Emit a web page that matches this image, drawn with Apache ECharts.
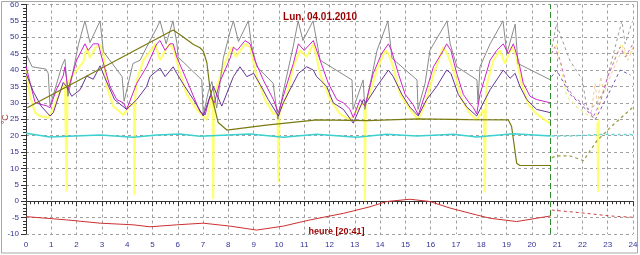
<!DOCTYPE html>
<html><head><meta charset="utf-8">
<script src="https://cdn.jsdelivr.net/npm/echarts@6/dist/echarts.min.js"></script>
<style>html,body{margin:0;padding:0;background:#fff}#c{width:640px;height:255px}</style>
</head><body><div id="c"></div>
<script>
// Data: [hour, °C]
var grayMain = [[0,45],[0.24,41],[0.79,40.3],[0.88,39],[0.95,29],[1.42,41.3],[1.54,43.3],[1.66,32],[1.82,38],[2.07,47.7],[2.33,55],[2.53,48.4],[2.93,55],[3.06,45.6],[3.80,38],[3.88,30.5],[4.23,42],[4.51,43],[4.77,47],[5.18,53],[5.30,55],[5.54,48],[5.81,55],[5.97,48],[6.01,44],[6.95,37],[7.01,26.3],[7.21,33.4],[7.35,36.5],[7.54,28.4],[7.80,43.6],[8.07,51.7],[8.20,55],[8.40,48.7],[8.79,55],[8.92,47.4],[9.13,41],[9.77,36],[9.96,25],[10.16,33],[10.56,47],[10.76,55],[10.95,49],[11.35,55],[11.63,43],[12.89,37],[12.93,28],[13.33,37],[13.40,28],[13.88,46],[14.31,55],[14.47,43.6],[15.46,37],[15.50,28],[15.78,36],[15.97,46],[16.65,55],[16.77,48],[17.04,41],[17.83,37],[17.87,30],[17.95,41],[18.35,48],[18.86,55],[19.01,45],[19.34,54],[19.45,42],[20.74,37]];
var grayPrev = [[20.8,47],[20.97,54],[21.5,43],[22.0,37],[22.1,32],[22.2,28],[22.45,29],[22.83,33],[23.56,55],[23.69,48],[23.96,54.5]];
var magentaMain = [[0,41.3],[0.16,36.2],[0.36,30.1],[0.55,29.6],[0.82,29.1],[0.95,28.5],[1.21,34.2],[1.47,38.2],[1.54,41],[1.66,34],[2.0,43],[2.33,48],[2.46,46],[2.66,48],[2.86,48],[2.99,44],[3.32,35],[3.59,31],[3.85,30],[3.98,28],[4.38,36],[4.77,41],[5.17,48],[5.30,49],[5.50,46],[5.69,48],[5.82,48],[5.96,44],[6.35,37],[6.88,27.3],[7.08,26.3],[7.28,32.1],[7.45,30],[7.67,36.5],[8.07,43.6],[8.20,47],[8.35,46],[8.66,49],[8.86,48],[9.05,43],[9.38,37],[9.78,31],[9.98,27],[10.17,32],[10.57,42],[10.77,48],[11.0,46],[11.36,49],[11.63,43],[11.95,36],[12.29,31],[12.55,30],[12.81,28],[12.94,25.5],[13.21,31],[13.40,29],[13.73,39],[14.06,45],[14.33,48],[14.45,46],[14.72,39],[14.99,32.6],[15.31,29.4],[15.51,26.3],[15.78,32.6],[16.11,41],[16.50,46],[16.63,48],[16.80,46],[17.03,39],[17.29,32.6],[17.56,29.6],[17.69,28.5],[17.82,26.6],[17.95,32.6],[18.35,43],[18.61,46],[18.87,48],[19.07,45],[19.27,48],[19.47,43],[19.66,36],[19.93,32],[20.19,31],[20.74,30]];
var magentaPrev = [[20.78,45],[20.9,47],[21.12,43],[21.38,35],[21.64,32],[22.17,28.8],[22.43,25.8],[22.7,30],[23.0,38],[23.49,47],[23.7,44],[24,48]];
var purpleMain = [[0,39],[0.29,33.4],[0.6,29],[0.95,26],[1.08,27],[1.47,36.2],[1.6,35],[1.81,32],[2.14,34],[2.40,38.2],[2.66,37.2],[2.93,41.3],[3.1,38],[3.5,31],[3.98,28],[4.38,31],[4.77,35],[4.90,38],[5.30,40.6],[5.50,38],[5.82,41],[5.96,39],[6.22,35.7],[6.62,31],[7.01,26],[7.41,35],[7.74,29],[8.20,38],[8.46,41],[8.73,38],[9.0,39],[9.25,35.7],[9.58,31],[9.98,26],[10.17,30],[10.77,39],[11.10,41],[11.36,40],[11.49,38],[11.63,37],[11.89,35],[12.15,30],[12.55,28],[12.94,23.8],[13.34,31],[13.45,30],[13.87,35],[14.33,40],[14.52,38],[14.86,32.6],[15.18,28.7],[15.51,26],[15.84,31],[16.24,35],[16.63,40],[16.80,39],[17.09,32.6],[17.43,28.7],[17.82,26],[17.95,28],[18.35,34],[18.87,40],[19.14,37.5],[19.34,39],[19.53,35],[19.80,31],[20.19,28],[20.74,27]];
var purplePrev = [[20.78,38],[20.98,40],[21.51,32.6],[22.17,27.8],[22.5,24.8],[22.96,31.6],[23.49,40],[23.9,38.5]];
var yellowMain = [[0,40],[0.16,32.1],[0.36,27],[0.55,26],[0.88,25.5],[1.0,27],[1.34,33.4],[1.54,36.2],[1.58,36],[1.61,3],[1.64,36],[1.81,38],[2.27,42.6],[2.40,46.7],[2.53,43.7],[2.73,46.7],[2.93,47.8],[3.06,45],[3.19,35],[3.45,29],[3.85,26.3],[4.11,29],[4.27,30],[4.29,2],[4.32,32],[4.38,37],[4.64,43],[5.03,47],[5.10,48],[5.30,43],[5.50,46],[5.69,48],[5.85,46],[6.02,41],[6.35,32.6],[6.75,28],[7.15,24.8],[7.34,32],[7.38,31],[7.40,0.7],[7.43,32],[7.50,34],[7.80,41],[8.13,47],[8.30,44],[8.66,48],[8.86,47],[9.12,38],[9.45,31],[9.78,26.6],[9.95,27],[9.98,5.7],[10.02,27],[10.3,32],[10.57,41],[10.83,46],[11.1,44],[11.36,48],[11.43,46],[11.63,38.7],[12.02,31],[12.42,26.6],[12.81,24.8],[13.1,28],[13.38,30],[13.40,0],[13.43,30],[13.6,33],[13.87,40],[14.20,46],[14.33,45],[14.52,41],[14.79,32.6],[15.18,28],[15.51,24.8],[15.8,30],[16.11,38.7],[16.50,47],[16.65,45],[16.90,40],[17.23,31],[17.56,26.6],[17.82,24.8],[18.1,28],[18.14,2.7],[18.18,30],[18.22,35.7],[18.48,43],[18.74,46],[18.94,42],[19.20,47],[19.35,45],[19.60,35.7],[19.86,29.6],[20.19,26.6],[20.74,23.6]];
var yellowPrev = [[20.78,45],[20.97,48],[21.38,32],[21.77,28.8],[22.3,25.8],[22.55,26],[22.83,34],[23.36,45],[23.56,48],[23.7,44],[24,46]];
var yellowSpikePrev = [[22.59,24],[22.62,2.7],[22.65,25]];
var orangePrev = [[22.35,27],[22.5,36],[22.6,29],[22.72,38],[22.85,33],[23.1,38],[23.5,45],[23.65,47],[23.8,43],[24,47]];
var oliveMain = [[0.05,28.5],[5.82,52.2],[6.22,50.1],[6.62,47.8],[6.88,46.8],[7.01,45.8],[7.15,42.3],[7.28,34],[7.6,24],[7.94,21.7],[9.5,23.2],[11.5,24.8],[13.5,24.6],[15.5,25.1],[17.5,24.9],[19.07,24.8],[19.2,22.8],[19.40,11.6],[19.53,10.9],[20.74,10.9]];
var olivePrev = [[20.79,13.3],[20.98,13.8],[21.51,13.8],[22.04,12.4],[22.57,18.4],[23.09,22.4],[24,28.7]];
var cyanMain = [[0,20.7],[0.95,19.6],[2.93,20.2],[4.24,19.5],[5.17,20.2],[6.08,20.5],[6.88,19.8],[8.86,20.5],[10.17,19.5],[11.49,20.4],[13.08,19.5],[14.26,20.4],[15.45,19.9],[16.9,20.4],[17.82,19.6],[19.27,20.6],[20.74,19.9]];
var cyanPrev = [[20.78,19.9],[21.51,19.9],[22.83,20.4],[24,20.3]];
var redMain = [[0,-4.7],[1.61,-5.7],[2.93,-6.7],[4.24,-7.2],[4.90,-7.8],[5.96,-7.2],[7.01,-6.7],[8.07,-7.6],[9.12,-8.8],[10.17,-7.6],[11.23,-5.7],[12.55,-3.7],[13.6,-1.7],[14.26,-0.1],[15.18,0.6],[15.97,-0.1],[16.77,-2.1],[17.82,-4.2],[18.35,-5.2],[19.40,-6.2],[20.19,-5.2],[20.74,-4.5]];
var redPrev = [[20.79,-2.7],[21.91,-3.5],[23.09,-4.5],[24,-4.9]];
var nowHour = 20.74;
var titleText = 'Lun, 04.01.2010';
var xName = 'heure [20:41]';
var yName = '°C';

function solid(data, color, width, z) {
  return {type:'line', data:data, symbol:'none', z:z||2, lineStyle:{color:color, width:width||1}};
}
function dashed(data, color, width, z) {
  return {type:'line', data:data, symbol:'none', z:z||2, lineStyle:{color:color, width:width||1, type:[3,3]}};
}
var FONT = 'Liberation Sans, Arial, sans-serif';
var chart = echarts.init(document.getElementById('c'), null, {renderer:'canvas'});
var redS = solid(redMain, '#cc3030', 1, 6);
redS.markLine = {silent:true, symbol:'none', label:{show:false}, lineStyle:{color:'#2e8b2e', type:[6,3], width:1}, data:[{xAxis:nowHour}]};
chart.setOption({
  animation:false,
  title:{text:titleText, left:'center', top:7, textStyle:{color:'#990000', fontSize:10, fontWeight:'bold', fontFamily:FONT}},
  graphic:[{type:'rect', shape:{x:1.5,y:1.5,width:636,height:251.5}, style:{fill:'none', stroke:'#a8a8a8', lineWidth:1}, silent:true}],
  grid:{left:26, right:7, top:4.5, bottom:21, containLabel:false, outerBoundsMode:'none'},
  xAxis:{type:'value', min:0, max:24, interval:1,
    name:xName, nameLocation:'middle', nameGap:-7, nameMoveOverlap:false,
    nameTextStyle:{color:'#990000', fontSize:9, fontWeight:'bold', fontFamily:FONT, padding:[0,0,0,14]},
    axisLine:{lineStyle:{color:'#333', width:1}},
    axisTick:{length:5, lineStyle:{color:'#333'}},
    minorTick:{show:true, splitNumber:6, length:3, lineStyle:{color:'#333'}},
    axisLabel:{color:'#333399', fontSize:8, margin:7, fontFamily:FONT},
    splitLine:{show:true, lineStyle:{color:'#a0a0a0', type:[3,3], width:1}}},
  yAxis:{type:'value', min:-10, max:60, interval:5,
    name:yName, nameLocation:'middle', nameGap:16, nameRotate:90, nameMoveOverlap:false,
    nameTextStyle:{color:'#993333', fontSize:9, fontFamily:FONT},
    axisLine:{show:true, lineStyle:{color:'#333', width:1}},
    axisTick:{show:true, length:5, lineStyle:{color:'#333'}},
    minorTick:{show:true, splitNumber:5, length:3, lineStyle:{color:'#333'}},
    axisLabel:{color:'#333399', fontSize:8, margin:7, fontFamily:FONT},
    splitLine:{show:true, lineStyle:{color:'#a0a0a0', type:[3,3], width:1}}},
  series:[
    solid(grayMain, '#8a8a8a', 1, 2),
    dashed(grayPrev, '#9a9a9a', 1, 2),
    solid(yellowMain, 'rgba(255,255,80,0.8)', 2.2, 1),
    dashed(yellowPrev, 'rgba(240,240,140,0.9)', 1.5, 1),
    solid(yellowSpikePrev, 'rgba(255,255,80,0.8)', 2, 1),
    dashed(orangePrev, 'rgba(230,170,90,0.6)', 1, 2),
    solid(magentaMain, '#cc22cc', 1, 3),
    dashed(magentaPrev, '#cc66cc', 1, 3),
    solid(purpleMain, '#663399', 1, 4),
    dashed(purplePrev, '#7755aa', 1, 4),
    solid(oliveMain, '#7a7a10', 1.2, 5),
    dashed(olivePrev, '#9a9a40', 1.2, 5),
    solid(cyanMain, '#3cd0d0', 1.5, 5),
    dashed(cyanPrev, '#60d8d8', 1.5, 5),
    redS,
    dashed(redPrev, '#d04040', 1, 6)
  ]
});
</script></body></html>
